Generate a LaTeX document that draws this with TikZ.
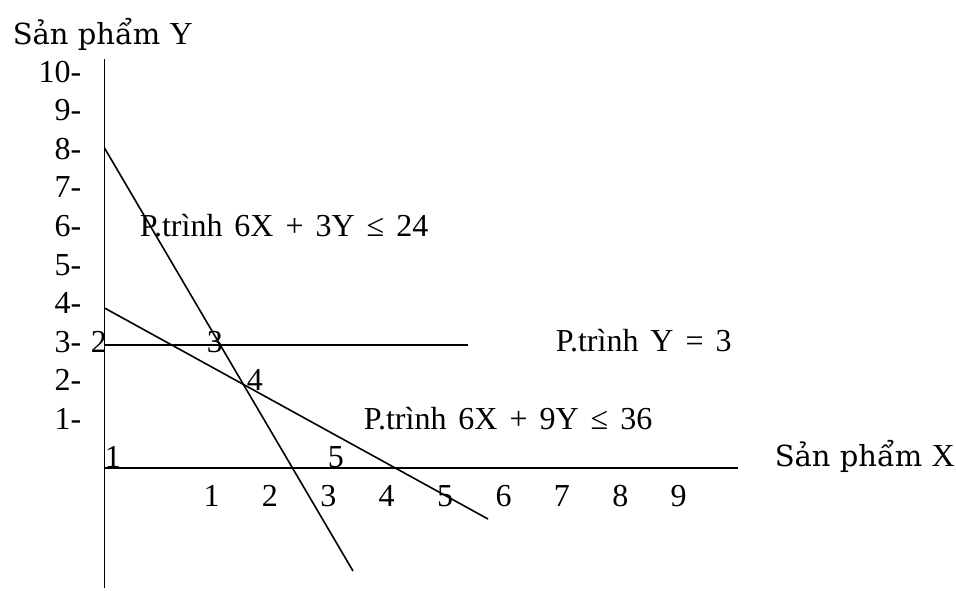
\documentclass[tikz,border=0pt]{standalone}
\usepackage{fontspec}
\setmainfont{Liberation Serif}[WordSpace=1.5]
\newfontfamily\titlefont{DejaVu Serif}[WordSpace=1.0]
\begin{document}
\begin{tikzpicture}[x=1pt,y=-1pt,line width=1.6pt,
  lbl/.style={inner sep=0pt,font=\fontsize{32}{36}\selectfont},
  ttl/.style={inner sep=0pt,font=\fontsize{29}{34}\titlefont}]
\useasboundingbox (0,0) rectangle (956,590);
% axes and lines
\coordinate (ytop) at (104.5,59);
\coordinate (ybot) at (104.5,588);
\coordinate (xstart) at (104.5,468);
\coordinate (xend) at (738,468);
\coordinate (hstart) at (104.5,345);
\coordinate (hend) at (468,345);
\coordinate (a1) at (104.5,148);
\coordinate (a2) at (353,571);
\coordinate (b1) at (104.5,308);
\coordinate (b2) at (488,519);
\draw (ytop) -- (ybot);
\draw (xstart) -- (xend);
\draw (hstart) -- (hend);
\draw (a1) -- (a2);
\draw (b1) -- (b2);
% tick labels
\foreach \v in {1,...,10}
  \node[lbl,anchor=base east] (ty\v) at (82,{82+(10-\v)*38.6}) {\v-};
\foreach \v in {1,...,9}
  \node[lbl,anchor=base] (tx\v) at ({211.5+(\v-1)*58.4},506) {\v};
% axis titles
\node[ttl,anchor=base west] (ytitle) at (12,44) {Sản phẩm {\fontsize{32}{36}\rmfamily Y}};
\node[ttl,anchor=base west] (xtitle) at (774,466) {Sản phẩm {\fontsize{32}{36}\rmfamily X}};
% equations
\node[lbl,anchor=base west] (eqA) at (139,236) {P.trình 6X + 3Y ≤ 24};
\node[lbl,anchor=base west] (eqH) at (555,351) {P.trình Y = 3};
\node[lbl,anchor=base west] (eqB) at (363,429) {P.trình 6X + 9Y ≤ 36};
% corner points
\node[lbl,anchor=base west] (p1) at (104,467) {1};
\node[lbl,anchor=base west] (p2) at (90,352) {2};
\node[lbl,anchor=base west] (p3) at (206,352) {3};
\node[lbl,anchor=base west] (p4) at (246,390) {4};
\node[lbl,anchor=base west] (p5) at (327,467) {5};
\end{tikzpicture}
\end{document}
